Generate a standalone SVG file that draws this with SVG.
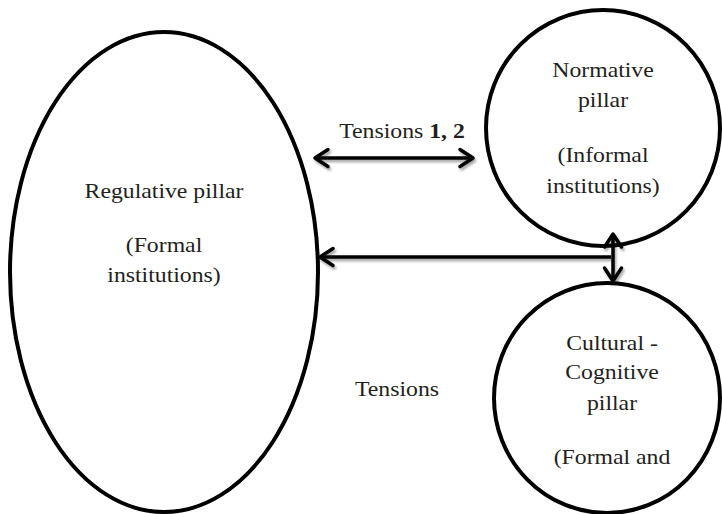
<svg xmlns="http://www.w3.org/2000/svg" width="722" height="514" viewBox="0 0 722 514">
<style>
.node{fill:#fff;stroke:#000;stroke-width:4}
.t{font-family:"Liberation Serif","Times New Roman",serif;font-size:22px;fill:#231f20;text-anchor:middle}
.b{font-weight:bold}
.c{fill:none;stroke:#000;stroke-width:3.5}
</style>
<defs>
<marker id="ah" viewBox="0 0 24 24" markerWidth="24" markerHeight="24" refX="18" refY="12" orient="auto-start-reverse" markerUnits="userSpaceOnUse" overflow="visible">
<path d="M5,3.5 L18,12 L5,20.5" fill="none" stroke="#000" stroke-width="3.5" stroke-linecap="round" stroke-linejoin="round"/>
</marker>
<filter id="sh" x="-10%" y="-50%" width="120%" height="200%">
<feDropShadow dx="1.5" dy="2.5" stdDeviation="1.2" flood-color="#000" flood-opacity="0.35"/>
</filter>
</defs>
<rect width="722" height="514" fill="#fff"/>
<g id="regulative">
<ellipse class="node" cx="164" cy="272" rx="154" ry="240"/>
<text class="t" transform="translate(164,198) scale(1.08,1)">Regulative pillar</text>
<text class="t" transform="translate(164,252) scale(1.08,1)">(Formal</text>
<text class="t" transform="translate(164,282) scale(1.08,1)">institutions)</text>
</g>
<g id="normative">
<ellipse class="node" cx="603" cy="128" rx="117" ry="118"/>
<text class="t" transform="translate(603,77) scale(1.08,1)">Normative</text>
<text class="t" transform="translate(603,107) scale(1.08,1)">pillar</text>
<text class="t" transform="translate(603,162) scale(1.08,1)">(Informal</text>
<text class="t" transform="translate(603,193) scale(1.08,1)">institutions)</text>
</g>
<g id="cultural">
<ellipse class="node" cx="607" cy="398" rx="113" ry="115"/>
<text class="t" transform="translate(612,350) scale(1.08,1)">Cultural -</text>
<text class="t" transform="translate(612,379) scale(1.08,1)">Cognitive</text>
<text class="t" transform="translate(612,410) scale(1.08,1)">pillar</text>
<text class="t" transform="translate(612,464) scale(1.08,1)">(Formal and</text>
</g>
<g id="connectors" filter="url(#sh)">
<line class="c" x1="315" y1="158" x2="473" y2="158" marker-start="url(#ah)" marker-end="url(#ah)"/>
<line class="c" x1="611" y1="257" x2="320" y2="257" marker-end="url(#ah)"/>
<line class="c" x1="613" y1="234" x2="613" y2="281" marker-start="url(#ah)" marker-end="url(#ah)"/>
</g>
<g id="labels">
<text class="t" transform="translate(402,138) scale(1.08,1)">Tensions <tspan class="b">1, 2</tspan></text>
<text class="t" transform="translate(397,396) scale(1.08,1)">Tensions</text>
</g>
</svg>
